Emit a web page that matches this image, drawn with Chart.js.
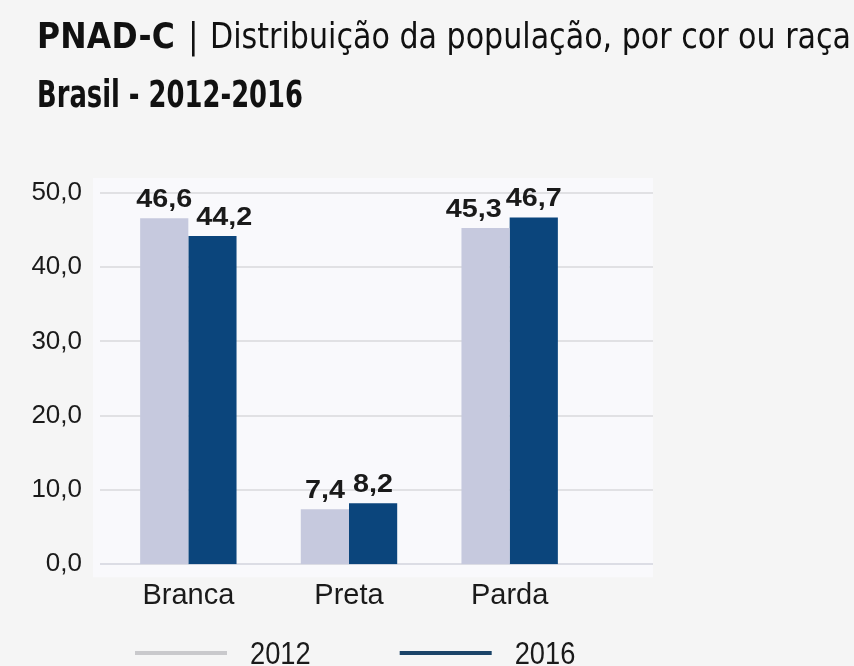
<!DOCTYPE html>
<html>
<head>
<meta charset="utf-8">
<script src="https://cdn.jsdelivr.net/npm/chart.js@4/dist/chart.umd.min.js"></script>
<style>
  html, body { margin: 0; padding: 0; background: #f5f5f5; }
  #wrap { position: relative; width: 854px; height: 666px; overflow: hidden; }
  #chart { position: absolute; left: 0; top: 0; }
  .t {
    position: absolute;
    white-space: nowrap;
    font-family: "Liberation Sans Narrow", "DejaVu Sans Condensed", "Liberation Sans", sans-serif;
    font-size: 35px;
    line-height: 35px;
    color: #111;
    transform-origin: left top;
  }
  .b { font-weight: bold; }
</style>
</head>
<body>
<div id="wrap">
  <canvas id="chart" width="854" height="666"></canvas>
  <span class="t b" id="t1" style="left:37px; top:19px">PNAD-C</span>
  <span class="t" id="t2" style="left:188px; top:19px">|</span>
  <span class="t" id="t3" style="left:210px; top:19px">Distribuição da população, por cor ou raça</span>
  <span class="t b" id="t4" style="left:37px; top:76px; font-size:37px; line-height:37px">Brasil - 2012-2016</span>
</div>
<script>
const categories = ["Branca", "Preta", "Parda"];
const years = ["2012", "2016"];
const values2012 = [46.6, 7.4, 45.3];
const values2016 = [44.2, 8.2, 46.7];
const yTicks = [0, 10, 20, 30, 40, 50];
const seriesColors = ["#c6c9de", "#0b457c"];
const legendColors = ["#c9c9cc", "#1b4468"];

const SANS = '"Liberation Sans", Arial, sans-serif';

// squeeze or space out the title spans to the widths seen in the reference
function fitWidth(id, target) {
  const el = document.getElementById(id);
  const w = el.getBoundingClientRect().width;
  if (w > target) {
    el.style.transform = "scaleX(" + target / w + ")";
  } else {
    el.style.letterSpacing = (target - w) / el.textContent.length + "px";
  }
}
fitWidth("t1", 138);
fitWidth("t3", 641);
fitWidth("t4", 266);

const fmt = (v) => v.toFixed(1).replace(".", ",");

const plotBackground = {
  id: "plotBackground",
  beforeDatasetsDraw(chart) {
    const { ctx, chartArea: a, scales } = chart;
    ctx.save();
    ctx.fillStyle = "#f9f9fc";
    ctx.fillRect(a.left - 15, a.top - 15, a.right - a.left + 78, a.bottom - a.top + 28);
    ctx.lineWidth = 2;
    scales.y.ticks.forEach((t) => {
      const y = Math.round(scales.y.getPixelForValue(t.value));
      ctx.strokeStyle = t.value === 0 ? "#dcdde5" : "#e1e1e4";
      ctx.beginPath();
      ctx.moveTo(a.left - 8, y);
      ctx.lineTo(a.right + 63, y);
      ctx.stroke();
    });
    ctx.restore();
  },
};

// value labels above bars; when the two labels of a category collide,
// the lower one is pushed sideways, as in the reference
const valueLabels = {
  id: "valueLabels",
  afterDatasetsDraw(chart) {
    const { ctx } = chart;
    const sx = 1.15;
    ctx.save();
    ctx.fillStyle = "#1a1a1a";
    ctx.font = "bold 25px " + SANS;
    ctx.textAlign = "center";
    ctx.textBaseline = "alphabetic";
    const metaA = chart.getDatasetMeta(0).data;
    const metaB = chart.getDatasetMeta(1).data;
    const dsA = chart.data.datasets[0].data;
    const dsB = chart.data.datasets[1].data;
    categories.forEach((c, j) => {
      const a = { bar: metaA[j], text: fmt(dsA[j]), v: dsA[j], dx: 0 };
      const b = { bar: metaB[j], text: fmt(dsB[j]), v: dsB[j], dx: 0 };
      const wa = ctx.measureText(a.text).width * sx;
      const wb = ctx.measureText(b.text).width * sx;
      const gap = b.bar.x - a.bar.x - (wa + wb) / 2;
      if (gap < 4) {
        if (a.v < b.v) a.dx = gap - 4;
        else b.dx = 4 - gap;
      }
      [a, b].forEach((l) => {
        ctx.save();
        ctx.translate(l.bar.x + l.dx, l.bar.y - 11);
        ctx.scale(sx, 1);
        ctx.fillText(l.text, 0, 0);
        ctx.restore();
      });
    });
    ctx.restore();
  },
};

const lineLegend = {
  id: "lineLegend",
  afterDraw(chart) {
    const { ctx, chartArea: a } = chart;
    const y = 653;
    const sx = 0.88;
    let x = a.left + 27;
    ctx.save();
    ctx.font = "31px " + SANS;
    ctx.textBaseline = "middle";
    chart.data.datasets.forEach((ds, i) => {
      ctx.fillStyle = legendColors[i];
      ctx.fillRect(x, y - 2, 92, 4);
      x += 92 + 23;
      ctx.fillStyle = "#1a1a1a";
      ctx.save();
      ctx.translate(x, y + 2);
      ctx.scale(sx, 1);
      ctx.fillText(ds.label, 0, 0);
      ctx.restore();
      x += ctx.measureText(ds.label).width * sx + 89;
    });
    ctx.restore();
  },
};

new Chart(document.getElementById("chart"), {
  type: "bar",
  data: {
    labels: categories,
    datasets: [
      { label: years[0], data: values2012, backgroundColor: seriesColors[0] },
      { label: years[1], data: values2016, backgroundColor: seriesColors[1] },
    ],
  },
  options: {
    responsive: false,
    animation: false,
    layout: { padding: { top: 193, right: 264, bottom: 39, left: 0 } },
    datasets: { bar: { categoryPercentage: 0.6, barPercentage: 1.0 } },
    scales: {
      x: {
        grid: { display: false, drawTicks: false },
        border: { display: false },
        ticks: { padding: 14, color: "#1a1a1a", font: { family: SANS, size: 29 } },
      },
      y: {
        min: 0,
        max: 50,
        afterBuildTicks: (scale) => {
          scale.ticks = yTicks.map((v) => ({ value: v }));
        },
        afterFit: (scale) => {
          scale.width = 108;
        },
        grid: { display: false, drawTicks: false },
        border: { display: false },
        ticks: {
          padding: 26,
          color: "#1a1a1a",
          font: { family: SANS, size: 26 },
          callback: (v) => fmt(v),
        },
      },
    },
    plugins: {
      legend: { display: false },
      tooltip: { enabled: false },
    },
  },
  plugins: [plotBackground, valueLabels, lineLegend],
});
</script>
</body>
</html>
